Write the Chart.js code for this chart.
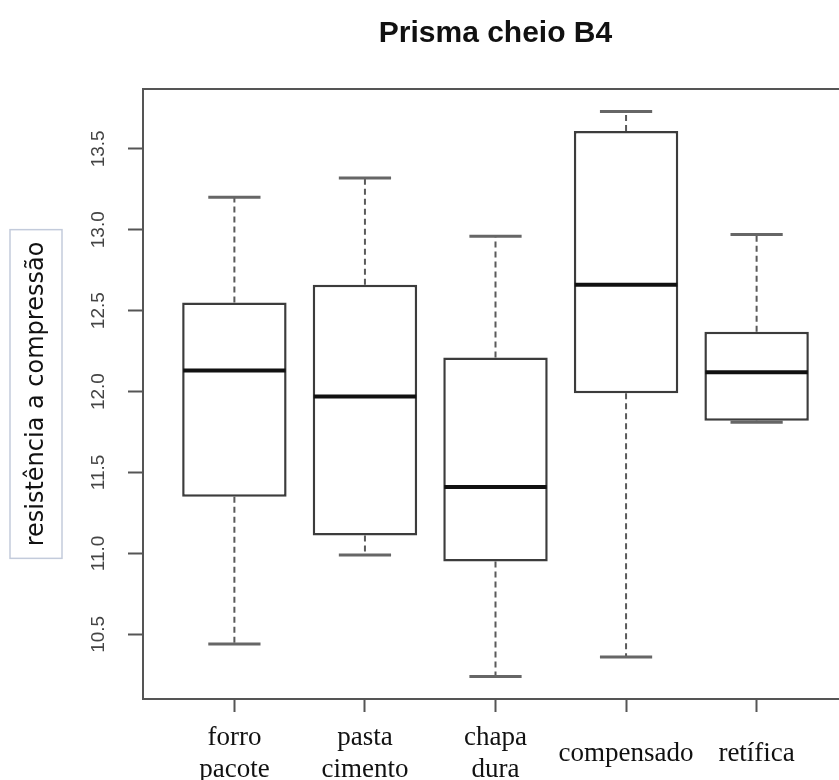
<!DOCTYPE html>
<html>
<head>
<meta charset="utf-8">
<script src="https://cdn.jsdelivr.net/npm/chart.js@4/dist/chart.umd.min.js"></script>
<style>
  html, body { margin: 0; padding: 0; background: #fff; overflow: hidden; }
  #wrap { width: 839px; height: 780px; overflow: hidden; position: relative; }
  canvas { display: block; }
</style>
</head>
<body>
<div id="wrap"><canvas id="c" width="860" height="780"></canvas></div>
<script>
// Five-number summaries per treatment
const categories  = [['forro', 'pacote'], ['pasta', 'cimento'], ['chapa', 'dura'], ['compensado'], ['retífica']];
const whiskerLow  = [10.44, 10.99, 10.24, 10.36, 11.81];
const q1          = [11.35, 11.11, 10.95, 11.99, 11.82];
const median      = [12.13, 11.97, 11.41, 12.66, 12.12];
const q3          = [12.55, 12.66, 12.21, 13.61, 12.37];
const whiskerHigh = [13.20, 13.32, 12.96, 13.73, 12.97];
const yTicks      = [10.5, 11.0, 11.5, 12.0, 12.5, 13.0, 13.5];

const positions = categories.map((_, i) => i + 1);
const lo = Math.min(...whiskerLow);
const hi = Math.max(...whiskerHigh);
const pad = (hi - lo) * 0.04;

const BOX_W = 0.8;   // box width in category units
const CAP_W = 0.4;   // staple width in category units

const boxPlotLines = {
  id: 'boxPlotLines',
  beforeDatasetsDraw(chart) {
    const { ctx, scales: { x, y } } = chart;
    ctx.save();
    positions.forEach((p, i) => {
      const px = x.getPixelForValue(p);
      // dashed whiskers
      ctx.strokeStyle = '#5a5a5a';
      ctx.lineWidth = 2;
      ctx.setLineDash([6, 4]);
      ctx.beginPath();
      ctx.moveTo(px, y.getPixelForValue(q3[i]));
      ctx.lineTo(px, y.getPixelForValue(whiskerHigh[i]));
      ctx.moveTo(px, y.getPixelForValue(q1[i]));
      ctx.lineTo(px, y.getPixelForValue(whiskerLow[i]));
      ctx.stroke();
      // staples
      ctx.setLineDash([]);
      ctx.lineWidth = 3;
      ctx.strokeStyle = '#666';
      const cl = x.getPixelForValue(p - CAP_W / 2);
      const cr = x.getPixelForValue(p + CAP_W / 2);
      [whiskerHigh[i], whiskerLow[i]].forEach(v => {
        const py = y.getPixelForValue(v);
        ctx.beginPath();
        ctx.moveTo(cl, py);
        ctx.lineTo(cr, py);
        ctx.stroke();
      });
    });
    ctx.restore();
  },
  afterDatasetsDraw(chart) {
    const { ctx, scales: { x, y } } = chart;
    ctx.save();
    ctx.strokeStyle = '#111';
    ctx.lineWidth = 4;
    positions.forEach((p, i) => {
      const py = y.getPixelForValue(median[i]);
      ctx.beginPath();
      ctx.moveTo(x.getPixelForValue(p - BOX_W / 2) + 1, py);
      ctx.lineTo(x.getPixelForValue(p + BOX_W / 2) - 1, py);
      ctx.stroke();
    });
    ctx.restore();
  },
  afterDraw(chart) {
    // frame around the plotting region
    const { ctx, chartArea: a } = chart;
    ctx.save();
    ctx.strokeStyle = '#555';
    ctx.lineWidth = 2;
    ctx.strokeRect(a.left, a.top, a.right - a.left, a.bottom - a.top);
    ctx.restore();
  }
};

// light box behind the y-axis title
const yTitleBox = {
  id: 'yTitleBox',
  beforeDraw(chart) {
    const { ctx, chartArea: a } = chart;
    const t = chart.options.scales.y.title;
    ctx.save();
    ctx.font = t.font.size + 'px ' + t.font.family;
    const w = ctx.measureText(t.text).width;
    const cy = (a.top + a.bottom) / 2;
    const half = w / 2 + 12;
    ctx.strokeStyle = '#c3cbdb';
    ctx.lineWidth = 1.5;
    ctx.strokeRect(10, cy - half, 52, half * 2);
    ctx.restore();
  }
};

new Chart(document.getElementById('c'), {
  type: 'bar',
  data: {
    datasets: [{
      data: positions.map((p, i) => ({ x: p, y: [q1[i], q3[i]] })),
      backgroundColor: '#ffffff',
      borderColor: '#3c3c3c',
      borderWidth: 2.5,
      borderSkipped: false,
      categoryPercentage: 1,
      barPercentage: BOX_W
    }]
  },
  plugins: [yTitleBox, boxPlotLines],
  options: {
    responsive: false,
    animation: false,
    layout: { padding: { left: 0, right: 12, top: 0, bottom: 0 } },
    plugins: {
      legend: { display: false },
      tooltip: { enabled: false },
      title: {
        display: true,
        fullSize: false,
        text: 'Prisma cheio B4',
        color: '#111',
        font: { family: 'Liberation Sans', size: 30, weight: 'bold', lineHeight: 1.2 },
        padding: { top: 16, bottom: 37 }
      }
    },
    scales: {
      x: {
        type: 'linear',
        min: 0.3,
        max: 5.7,
        offset: false,
        afterFit(scale) { scale.height = 81; },
        afterBuildTicks(scale) { scale.ticks = positions.map(v => ({ value: v })); },
        border: { display: false },
        grid: { drawOnChartArea: false, drawTicks: true, tickLength: 13, tickWidth: 2, tickColor: '#555', offset: false },
        ticks: {
          autoSkip: false,
          maxRotation: 0,
          padding: 26,
          crossAlign: 'center',
          color: '#111',
          font: { family: 'Liberation Serif', size: 27, lineHeight: 1.2 },
          callback: (v) => categories[v - 1]
        }
      },
      y: {
        min: lo - pad,
        max: hi + pad,
        afterFit(scale) { scale.width = 143; },
        afterBuildTicks(scale) { scale.ticks = yTicks.map(v => ({ value: v })); },
        border: { display: false },
        grid: { drawOnChartArea: false, drawTicks: true, tickLength: 15, tickWidth: 2, tickColor: '#555' },
        ticks: {
          autoSkip: false,
          minRotation: 90,
          maxRotation: 90,
          crossAlign: 'center',
          padding: 11,
          color: '#444',
          font: { family: 'Liberation Sans', size: 19 },
          callback: (v) => Number(v).toFixed(1)
        },
        title: {
          display: true,
          text: 'resistência a compressão',
          color: '#111',
          font: { family: 'DejaVu Sans', size: 24, lineHeight: 1.2 },
          padding: { top: 22, bottom: 0 }
        }
      }
    }
  }
});
</script>
</body>
</html>
